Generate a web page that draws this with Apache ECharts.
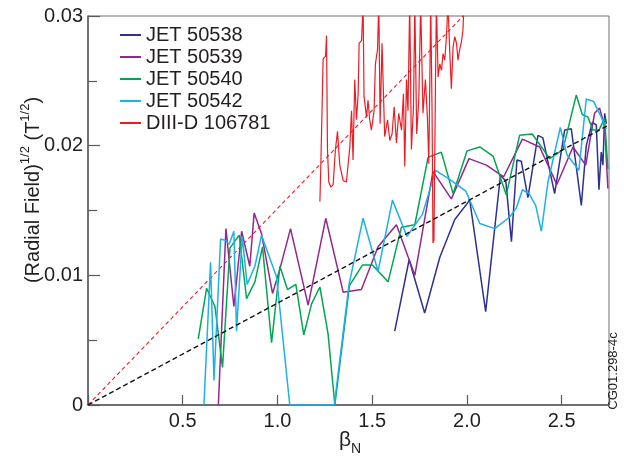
<!DOCTYPE html>
<html>
<head>
<meta charset="utf-8">
<script src="https://cdn.jsdelivr.net/npm/echarts@6/dist/echarts.min.js"></script>
<style>
html, body { margin: 0; padding: 0; background: #fff; }
#chart { width: 624px; height: 456px; }
</style>
</head>
<body>
<div id="chart"></div>
<script>
// JET 50538
const x50538 = [1.619, 1.695, 1.777, 1.857, 1.936, 2.015, 2.099, 2.177, 2.205, 2.235, 2.264, 2.287, 2.322, 2.375, 2.401, 2.463, 2.516, 2.551, 2.604, 2.630, 2.662, 2.683, 2.697, 2.709, 2.718, 2.727, 2.736]
const y50538 = [0.0057, 0.0112, 0.0071, 0.0114, 0.0143, 0.0158, 0.0072, 0.0177, 0.0173, 0.0126, 0.0189, 0.0188, 0.0160, 0.0208, 0.0206, 0.0163, 0.0212, 0.0213, 0.0154, 0.0200, 0.0218, 0.0216, 0.0166, 0.0195, 0.0185, 0.0225, 0.0217]
// JET 50539
const x50539 = [0.688, 0.728, 0.770, 0.811, 0.854, 0.877, 0.916, 0.974, 1.013, 1.069, 1.162, 1.255, 1.347, 1.443, 1.531, 1.628, 1.725, 1.821, 1.918, 2.011, 2.103, 2.194, 2.293, 2.384, 2.475, 2.560, 2.627, 2.674, 2.700, 2.727, 2.744]
const y50539 = [0, 0.0136, 0.0076, 0.0134, 0.0107, 0.0148, 0.0132, 0.0086, 0.0105, 0.0136, 0.0077, 0.0144, 0.0087, 0.0089, 0.0122, 0.0139, 0.0100, 0.0180, 0.0159, 0.0190, 0.0185, 0.0176, 0.0205, 0.0199, 0.0170, 0.0199, 0.0185, 0.0225, 0.0229, 0.0215, 0.0167]
// JET 50540
const x50540 = [0.582, 0.626, 0.670, 0.710, 0.749, 0.798, 0.837, 0.881, 0.921, 0.969, 1.013, 1.053, 1.097, 1.139, 1.180, 1.224, 1.267, 1.303, 1.380, 1.449, 1.501, 1.584, 1.654, 1.725, 1.795, 1.865, 1.927, 2.001, 2.068, 2.138, 2.208, 2.278, 2.345, 2.437, 2.507, 2.577, 2.609, 2.639, 2.665, 2.697, 2.727, 2.744]
const y50540 = [0.0051, 0.0090, 0.0076, 0.0029, 0.0121, 0.0131, 0.0082, 0.0095, 0.0122, 0.0048, 0.0107, 0.0089, 0.0093, 0.0054, 0.0078, 0.0091, 0.0055, 0.0000, 0.0092, 0.0108, 0.0108, 0.0095, 0.0137, 0.0139, 0.0191, 0.0195, 0.0163, 0.0196, 0.0199, 0.0192, 0.0162, 0.0208, 0.0209, 0.0190, 0.0197, 0.0239, 0.0224, 0.0222, 0.0212, 0.0212, 0.0221, 0.0182]
// JET 50542
const x50542 = [0.612, 0.647, 0.665, 0.700, 0.723, 0.745, 0.770, 0.784, 0.814, 0.840, 0.881, 0.916, 0.995, 1.065, 1.300, 1.378, 1.452, 1.531, 1.607, 1.684, 1.765, 1.835, 1.909, 1.994, 2.068, 2.147, 2.226, 2.261, 2.293, 2.328, 2.363, 2.393, 2.428, 2.493, 2.528, 2.591, 2.630, 2.669, 2.709, 2.736]
const y50542 = [0, 0.0110, 0.0019, 0.0128, 0.0127, 0.0124, 0.0134, 0.0057, 0.0130, 0.0093, 0.0107, 0.0131, 0.0099, 0, 0, 0.0093, 0.0144, 0.0103, 0.0158, 0.0130, 0.0147, 0.0181, 0.0174, 0.0165, 0.0140, 0.0136, 0.0145, 0.0152, 0.0166, 0.0163, 0.0154, 0.0134, 0.0172, 0.0214, 0.0193, 0.0181, 0.0236, 0.0234, 0.0222, 0.0213]
// DIII-D 106781 (goes off the top)
const xDIIID = [1.224, 1.229, 1.241, 1.254, 1.259, 1.264, 1.271, 1.282, 1.294, 1.306, 1.317, 1.329, 1.347, 1.364, 1.382, 1.391, 1.399, 1.408, 1.417, 1.426, 1.431, 1.444, 1.452, 1.457, 1.470, 1.478, 1.487, 1.496, 1.510, 1.517, 1.528, 1.535, 1.542, 1.552, 1.566, 1.581, 1.593, 1.605, 1.616, 1.628, 1.640, 1.655, 1.665, 1.672, 1.681, 1.689, 1.698, 1.707, 1.718, 1.725, 1.735, 1.746, 1.756, 1.768, 1.781, 1.792, 1.799, 1.809, 1.816, 1.821, 1.826, 1.834, 1.839, 1.848, 1.857, 1.866, 1.874, 1.883, 1.892, 1.900, 1.909, 1.918, 1.927, 1.936, 1.945, 1.953, 1.962, 1.971, 1.979, 1.985]
const yDIIID = [0.0157, 0.0185, 0.0267, 0.0269, 0.0285, 0.0197, 0.0172, 0.0168, 0.0170, 0.0197, 0.0211, 0.0185, 0.0173, 0.0172, 0.0199, 0.0227, 0.0189, 0.0251, 0.0220, 0.0240, 0.0279, 0.0281, 0.031, 0.0238, 0.0222, 0.0235, 0.0220, 0.0212, 0.0227, 0.0263, 0.0274, 0.031, 0.0217, 0.0279, 0.0207, 0.0220, 0.0204, 0.0209, 0.0230, 0.0202, 0.0225, 0.0212, 0.0240, 0.0184, 0.0251, 0.0227, 0.031, 0.0197, 0.0230, 0.031, 0.0209, 0.0235, 0.031, 0.0225, 0.0251, 0.0220, 0.0186, 0.031, 0.0227, 0.0125, 0.0127, 0.0248, 0.031, 0.0253, 0.0263, 0.0258, 0.0271, 0.0266, 0.0284, 0.031, 0.0274, 0.0244, 0.0276, 0.0284, 0.0279, 0.0266, 0.0274, 0.0280, 0.0289, 0.031]
// dashed guide lines
const xFitRed = [0, 1.98]
const yFitRed = [0, 0.03]
const xFitBlack = [0, 2.75]
const yFitBlack = [0, 0.0216]

const names = ['JET 50538', 'JET 50539', 'JET 50540', 'JET 50542', 'DIII-D 106781']
const colors = ['#2e3192', '#92278f', '#00a651', '#1fb0e8', '#ed1c24']

function pairs(xs, ys) {
    return xs.map((x, i) => [x, ys[i]])
}

const FONT = '"Liberation Sans", Arial, Helvetica, sans-serif'

let myChart = echarts.init(document.getElementById('chart'))

function jetLine(name, xs, ys, color, width) {
    return {
        name: name,
        type: 'line',
        data: pairs(xs, ys),
        symbol: 'none',
        showSymbol: false,
        animation: false,
        clip: true,
        lineStyle: { color: color, width: width },
        itemStyle: { color: color }
    }
}

let option = {
    backgroundColor: '#FFFFFF',
    animation: false,
    grid: {
        left: 88,
        right: 15,
        top: 16,
        bottom: 51,
        containLabel: false,
        outerBoundsMode: 'none',
        show: true,
        borderColor: '#6d6e71',
        borderWidth: 1
    },
    legend: {
        data: names,
        orient: 'vertical',
        left: 115,
        top: 20,
        icon: 'rect',
        itemWidth: 21,
        itemHeight: 2,
        itemGap: 2,
        textStyle: { fontFamily: FONT, fontSize: 20, color: '#231f20', lineHeight: 20 }
    },
    xAxis: {
        type: 'value',
        min: 0,
        max: 2.75,
        interval: 0.5,
        axisLine: { lineStyle: { color: '#58595b', width: 1.5 } },
        axisTick: { inside: true, length: 10, lineStyle: { color: '#58595b', width: 1.2 } },
        splitLine: { show: false },
        axisLabel: {
            margin: 6,
            fontFamily: FONT,
            fontSize: 20,
            color: '#231f20',
            formatter: function (v) {
                if (v <= 0 || v > 2.6) return ''
                return v.toFixed(1)
            }
        }
    },
    yAxis: {
        type: 'value',
        min: 0,
        max: 0.03,
        interval: 0.01,
        axisLine: { lineStyle: { color: '#58595b', width: 1.5 } },
        axisTick: { inside: true, length: 12, lineStyle: { color: '#58595b', width: 1.2 } },
        minorTick: { show: true, splitNumber: 2, length: 9, lineStyle: { color: '#58595b', width: 1.2 } },
        splitLine: { show: false },
        axisLabel: {
            margin: 5,
            fontFamily: FONT,
            fontSize: 20,
            color: '#231f20',
            formatter: function (v) {
                if (v === 0) return '0'
                return v.toFixed(2)
            }
        }
    },
    graphic: [
        {
            type: 'text',
            x: 31,
            y: 190,
            rotation: Math.PI / 2,
            style: {
                text: '{a|(Radial Field)}{s|1/2}{a| (T}{s|1/2}{a|)}',
                align: 'center',
                verticalAlign: 'middle',
                fill: '#231f20',
                rich: {
                    a: { fontFamily: FONT, fontSize: 20, lineHeight: 24, fill: '#231f20', verticalAlign: 'bottom' },
                    s: { fontFamily: FONT, fontSize: 13, lineHeight: 24, fill: '#231f20', verticalAlign: 'top' }
                }
            }
        },
        {
            type: 'text',
            x: 350,
            y: 443,
            style: {
                text: '{a|β}{n|N}',
                align: 'center',
                verticalAlign: 'middle',
                fill: '#231f20',
                rich: {
                    a: { fontFamily: FONT, fontSize: 21, lineHeight: 26, fill: '#231f20', verticalAlign: 'top' },
                    n: { fontFamily: FONT, fontSize: 14, lineHeight: 26, fill: '#231f20', verticalAlign: 'bottom' }
                }
            }
        },
        {
            type: 'text',
            x: 613,
            y: 371,
            rotation: Math.PI / 2,
            style: {
                text: 'CG01.298-4c',
                align: 'center',
                verticalAlign: 'middle',
                fontFamily: FONT,
                fontSize: 13,
                fill: '#231f20'
            }
        }
    ],
    series: [
        jetLine(names[0], x50538, y50538, colors[0], 1.5),
        jetLine(names[1], x50539, y50539, colors[1], 1.5),
        jetLine(names[2], x50540, y50540, colors[2], 1.5),
        jetLine(names[3], x50542, y50542, colors[3], 1.5),
        jetLine(names[4], xDIIID, yDIIID, colors[4], 1.2),
        {
            name: 'fitRed',
            type: 'line',
            data: pairs(xFitRed, yFitRed),
            symbol: 'none',
            silent: true,
            lineStyle: { color: '#ed1c24', width: 1.1, type: [4, 3] },
            z: 1
        },
        {
            name: 'fitBlack',
            type: 'line',
            data: pairs(xFitBlack, yFitBlack),
            symbol: 'none',
            silent: true,
            lineStyle: { color: '#111111', width: 1.4, type: [5, 3] },
            z: 3
        }
    ]
}
myChart.setOption(option)
window.addEventListener('resize', function () {
    myChart.resize()
})
</script>
</body>
</html>
